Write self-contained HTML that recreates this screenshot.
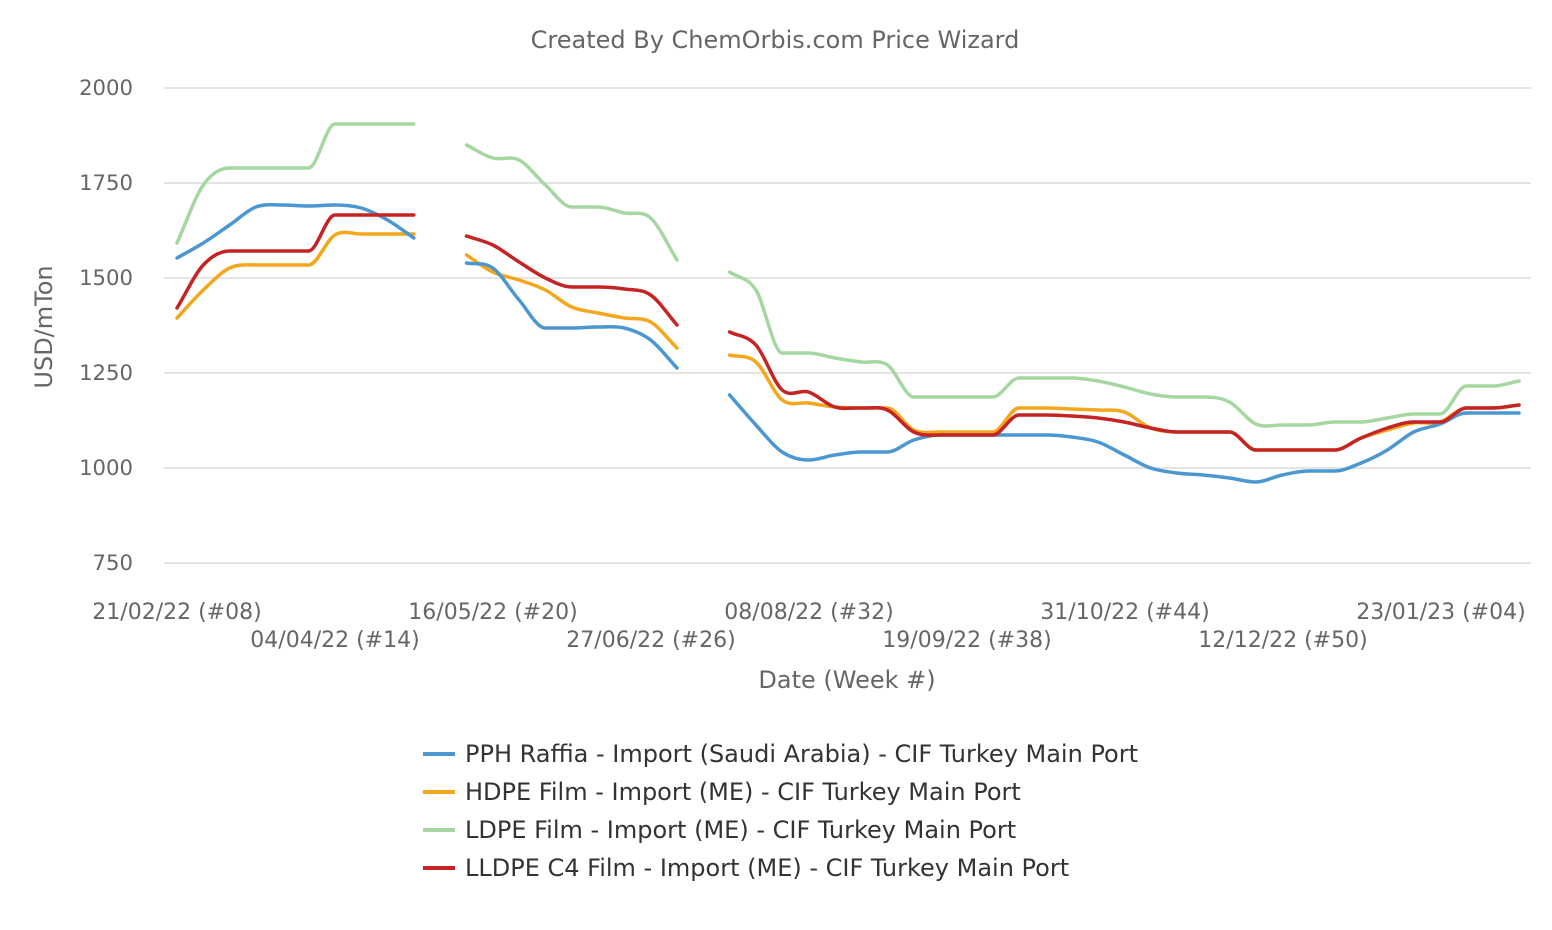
<!DOCTYPE html>
<html><head><meta charset="utf-8"><style>
html,body{margin:0;padding:0;background:#fff;}
svg{display:block;font-family:"DejaVu Sans","Liberation Sans",sans-serif;}
</style></head><body>
<svg id="c" width="1552" height="930" xmlns="http://www.w3.org/2000/svg">
<text x="775" y="48" text-anchor="middle" font-size="24" fill="#666">Created By ChemOrbis.com Price Wizard</text>
<g stroke="#dcdcdc" stroke-width="1.5">
<line x1="164" x2="1531" y1="88" y2="88"/><line x1="164" x2="1531" y1="183" y2="183"/>
<line x1="164" x2="1531" y1="278" y2="278"/><line x1="164" x2="1531" y1="373" y2="373"/>
<line x1="164" x2="1531" y1="468" y2="468"/><line x1="164" x2="1531" y1="563" y2="563"/>
</g>
<g font-size="21.2" fill="#666" text-anchor="end">
<text x="133" y="95">2000</text><text x="133" y="190">1750</text><text x="133" y="285">1500</text>
<text x="133" y="380">1250</text><text x="133" y="475">1000</text><text x="133" y="570">750</text>
</g>
<text transform="translate(52,327) rotate(-90)" text-anchor="middle" font-size="24" fill="#666">USD/mTon</text>
<g font-size="22" fill="#666" text-anchor="middle">
<text x="177" y="619">21/02/22 (#08)</text><text x="335" y="647">04/04/22 (#14)</text>
<text x="493" y="619">16/05/22 (#20)</text><text x="651" y="647">27/06/22 (#26)</text>
<text x="809" y="619">08/08/22 (#32)</text><text x="967" y="647">19/09/22 (#38)</text>
<text x="1125" y="619">31/10/22 (#44)</text><text x="1283" y="647">12/12/22 (#50)</text>
<text x="1441" y="619">23/01/23 (#04)</text>
</g>
<text x="847" y="688" text-anchor="middle" font-size="24" fill="#666">Date (Week #)</text>
<g id="series" fill="none" stroke-width="3.5" stroke-linecap="round" stroke-linejoin="round"></g>
<g font-size="24" fill="#333">
<line x1="423" x2="455" y1="754" y2="754" stroke="#4a97d1" stroke-width="4"/><text x="465" y="762">PPH Raffia - Import (Saudi Arabia) - CIF Turkey Main Port</text>
<line x1="423" x2="455" y1="792" y2="792" stroke="#f4a71d" stroke-width="4"/><text x="465" y="800">HDPE Film - Import (ME) - CIF Turkey Main Port</text>
<line x1="423" x2="455" y1="830" y2="830" stroke="#a5d8a0" stroke-width="4"/><text x="465" y="838">LDPE Film - Import (ME) - CIF Turkey Main Port</text>
<line x1="423" x2="455" y1="868" y2="868" stroke="#c42424" stroke-width="4"/><text x="465" y="876">LLDPE C4 Film - Import (ME) - CIF Turkey Main Port</text>
</g>
</svg>
<script>
var N=null;
var S=[
["#a5d8a0",[243,185,168,168,168,168,124,124,124,124,N,145,158,160,185,207,207,213,218,260,N,272,290,353,353,358,362,365,397,397,397,397,378,378,378,381,387,394,397,397,402,424,425,425,422,422,418,414,414,386,386,381]],
["#f4a71d",[318,290,268,265,265,265,235,234,234,234,N,255,272,280,290,307,313,318,322,348,N,355,362,400,403,407,408,408,430,432,432,432,408,408,409,410,412,428,432,432,432,450,450,450,450,438,430,423,422,408,408,405]],
["#4a97d1",[258,243,225,207,205,206,205,208,220,238,N,263,268,300,328,328,327,328,340,368,N,395,425,452,460,455,452,452,440,435,435,435,435,435,437,442,455,468,473,475,478,482,475,471,471,463,450,432,424,413,413,413]],
["#c42424",[308,265,251,251,251,251,215,215,215,215,N,236,245,262,278,287,287,289,295,325,N,332,345,390,392,407,408,410,432,435,435,435,415,415,416,418,422,428,432,432,432,450,450,450,450,438,428,422,422,408,408,405]]
];
function path(ys){
  var segs=[],cur=[];
  ys.forEach(function(y,i){ if(y===N){if(cur.length)segs.push(cur);cur=[];} else cur.push([177+i*(1342/51),y]); });
  if(cur.length)segs.push(cur);
  var d="";
  segs.forEach(function(p){
    var n=p.length; if(n<2)return;
    var dl=[],m=[];
    for(var i=0;i<n-1;i++)dl.push((p[i+1][1]-p[i][1])/(p[i+1][0]-p[i][0]));
    m[0]=dl[0];m[n-1]=dl[n-2];
    for(i=1;i<n-1;i++){ m[i]=(dl[i-1]*dl[i]<=0)?0:(dl[i-1]+dl[i])/2; }
    for(i=0;i<n-1;i++){ if(dl[i]===0){m[i]=0;m[i+1]=0;} }
    d+="M"+p[0][0].toFixed(1)+","+p[0][1];
    for(i=0;i<n-1;i++){
      var h=(p[i+1][0]-p[i][0])/3;
      d+="C"+(p[i][0]+h).toFixed(1)+","+(p[i][1]+m[i]*h).toFixed(1)+" "+(p[i+1][0]-h).toFixed(1)+","+(p[i+1][1]-m[i+1]*h).toFixed(1)+" "+p[i+1][0].toFixed(1)+","+p[i+1][1];
    }
  });
  return d;
}
var g=document.getElementById("series");
S.forEach(function(s){
  var e=document.createElementNS("http://www.w3.org/2000/svg","path");
  e.setAttribute("d",path(s[1]));e.setAttribute("stroke",s[0]);g.appendChild(e);
});
</script>
</body></html>
